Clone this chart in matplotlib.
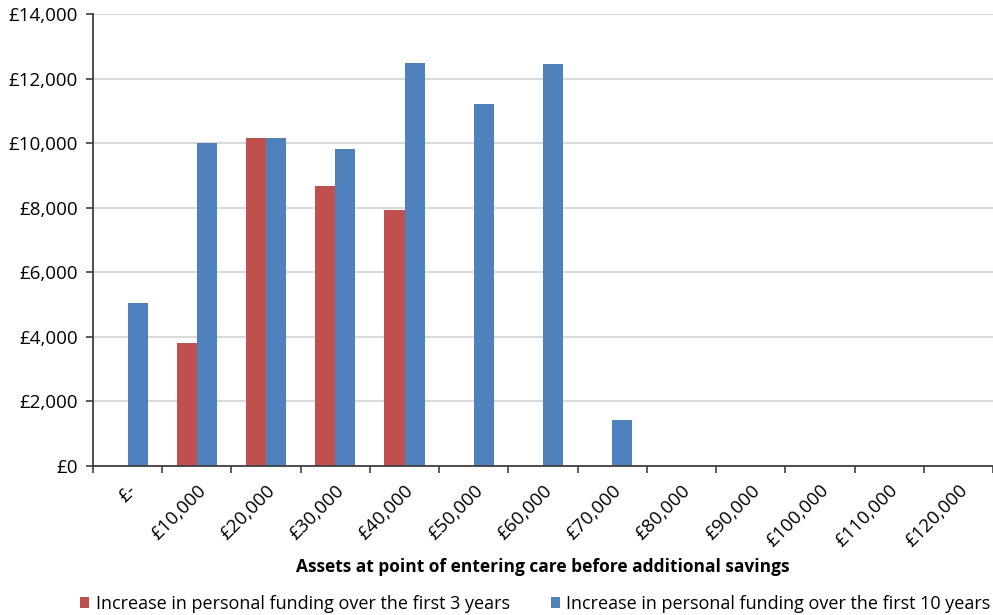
import matplotlib.pyplot as plt
import numpy as np
from matplotlib.ticker import FuncFormatter

plt.rcParams.update({
    'font.family': ['Open Sans', 'DejaVu Sans'],
    'font.size': 12,
})

categories = ['£-', '£10,000', '£20,000', '£30,000', '£40,000', '£50,000', '£60,000',
              '£70,000', '£80,000', '£90,000', '£100,000', '£110,000', '£120,000']
first_3_years = [0, 3800, 10150, 8670, 7930, 0, 0, 0, 0, 0, 0, 0, 0]
first_10_years = [5050, 10000, 10150, 9830, 12470, 11200, 12450, 1425, 0, 0, 0, 0, 0]
labels = ['Increase in personal funding over the first 3 years',
          'Increase in personal funding over the first 10 years']

red = '#C0504D'
blue = '#4F81BD'

fig = plt.figure(figsize=(9.93, 6.15), dpi=100)
ax = fig.add_axes([93 / 993, 1 - 466 / 615, 1 - 93 / 993, (466 - 14) / 615])

x = np.arange(len(categories))
w = 0.29
ax.bar(x - w / 2, first_3_years, w, color=red, label=labels[0])
ax.bar(x + w / 2, first_10_years, w, color=blue, label=labels[1])

ax.set_xlim(-0.5, len(categories) - 0.5)
ax.set_ylim(0, 14000)
ax.set_yticks(np.arange(0, 14001, 2000))
ax.yaxis.set_major_formatter(FuncFormatter(lambda v, p: f'£{v:,.0f}'))
ax.tick_params(axis='y', labelsize=13.5, length=5, width=1.2, color='#404040', pad=6)

# ticks at category boundaries, labels at centres
ax.set_xticks(np.arange(-0.5, len(categories), 1.0))
ax.set_xticklabels([])
ax.set_xticks(x, minor=True)
ax.set_xticklabels(categories, minor=True, rotation=45, ha='right', va='top',
                   rotation_mode='anchor', fontsize=13.5)
ax.tick_params(axis='x', which='major', length=5, width=1.2, color='#404040')
ax.tick_params(axis='x', which='minor', length=0, pad=11)

ax.grid(axis='y', color='#d9d9d9', linewidth=1.5)
ax.set_axisbelow(True)
for s in ['top', 'right']:
    ax.spines[s].set_visible(False)
for s in ['left', 'bottom']:
    ax.spines[s].set_color('#404040')
    ax.spines[s].set_linewidth(1.3)

fig.text(543 / 993, 1 - 567 / 615, 'Assets at point of entering care before additional savings',
         ha='center', va='center', fontsize=12.5, fontweight='bold')

fig.legend(loc='center left', bbox_to_anchor=(64 / 993, 1 - 604 / 615), ncol=2,
           frameon=False, fontsize=13, handlelength=0.5, handleheight=0.5,
           handletextpad=0.35, columnspacing=2.3)

fig.savefig('out.png', dpi=100)
